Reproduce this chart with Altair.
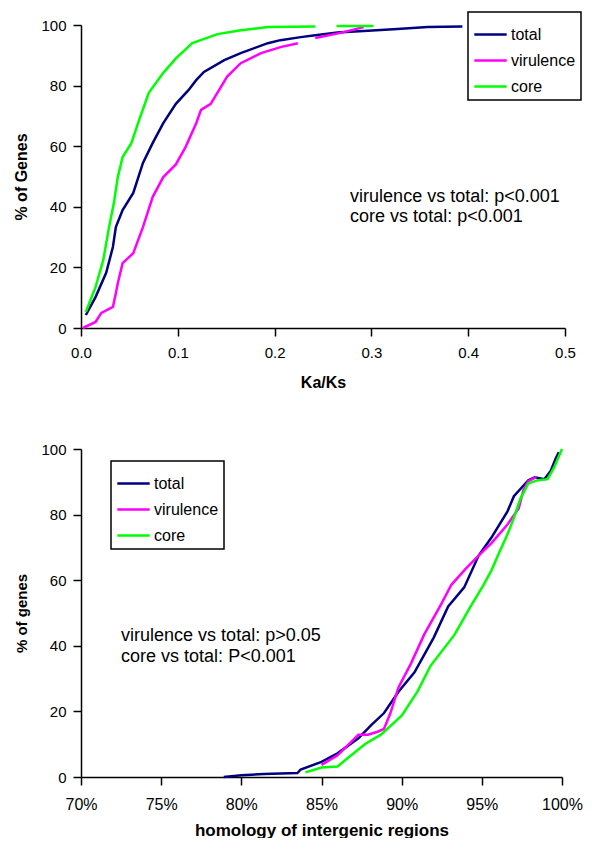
import altair as alt
import pandas as pd

FONT = "Liberation Sans"
series_names = ["total", "virulence", "core"]
series_colors = ["#000080", "#ff00ff", "#00ff00"]

# ---------------- top panel: Ka/Ks cumulative distribution ----------------
ka_total_x = [0.005, 0.015, 0.026, 0.033, 0.036, 0.043, 0.054, 0.064, 0.074, 0.085, 0.098, 0.111,
              0.119, 0.127, 0.148, 0.165, 0.193, 0.206, 0.227, 0.240, 0.265, 0.292, 0.327, 0.358, 0.394]
ka_total_y = [4.3, 10.2, 18.2, 26.8, 33.3, 38.9, 44.6, 54.5, 61, 67.6, 74, 78.5,
              81.8, 84.5, 88.4, 90.7, 94, 95, 96, 96.5, 97.5, 98, 98.7, 99.3, 99.5]

ka_vir_x1 = [0.002, 0.015, 0.021, 0.033, 0.036, 0.038, 0.043, 0.054, 0.064, 0.074, 0.085, 0.098,
             0.108, 0.119, 0.124, 0.134, 0.151, 0.165, 0.186, 0.206, 0.224]
ka_vir_y1 = [0, 2, 5, 7, 11.5, 14.8, 21.4, 24.7, 33.3, 43.2, 49.8, 54,
             59.7, 67.6, 72, 74, 83, 87.4, 90.7, 92.7, 94]
ka_vir_x2 = [0.242, 0.268, 0.292]
ka_vir_y2 = [95.7, 97.4, 99.3]

ka_core_x1 = [0.005, 0.015, 0.023, 0.029, 0.034, 0.038, 0.043, 0.052, 0.060, 0.070, 0.085, 0.098,
              0.115, 0.141, 0.165, 0.193, 0.242]
ka_core_y1 = [5.3, 13.5, 22.4, 33.3, 41.3, 49.8, 56.4, 61, 68.6, 77.6, 84.2, 89,
              94, 97, 98.3, 99.3, 99.5]
ka_core_x2 = [0.264, 0.302]
ka_core_y2 = [99.7, 99.7]

top_ticks = [0, 0.1, 0.2, 0.3, 0.4, 0.5]
top_notes = ["virulence vs total: p<0.001", "core vs total: p<0.001"]
top_note_x = [0.278, 0.278]
top_note_y = [43.2, 36.6]

# ---------------- bottom panel: intergenic homology ----------------
ig_total_x = [78.9, 80.0, 81.4, 83.5, 83.7, 85.0, 86.0, 87.3, 88.1, 88.9, 89.8, 90.8, 92.0, 92.9,
              93.9, 94.8, 95.6, 96.6, 97.0, 97.9, 98.3, 98.9, 99.3, 99.6, 99.8]
ig_total_y = [0, 0.5, 0.9, 1.2, 2.3, 4.6, 7.2, 11.8, 15.8, 19.5, 26, 31.9, 42.5, 52,
              57.8, 67.5, 73, 81, 85.6, 90.5, 91.4, 90.8, 93.4, 97, 99]

ig_vir_x = [85.0, 86.0, 86.6, 87.3, 87.9, 88.5, 88.9, 89.3, 89.8, 90.6, 91.4, 92.5, 93.1, 94.0,
            94.8, 95.6, 96.6, 97.3, 97.6, 97.9, 98.4]
ig_vir_y = [3.7, 6.6, 9.5, 12.9, 12.9, 13.8, 14.7, 19.5, 27.3, 34.8, 43.4, 53, 58.6, 63.5,
            67.5, 71.3, 77, 81.9, 87.6, 90.2, 91.4]

ig_core_x = [84.0, 85.0, 86.0, 86.7, 87.7, 88.7, 90.0, 91.0, 91.8, 93.3, 94.3, 95.1, 95.6, 96.0,
             96.6, 97.0, 97.4, 97.9, 98.5, 99.1, 99.5, 100]
ig_core_y = [1.4, 2.9, 3.2, 6, 10, 12.9, 18.7, 26.2, 33.9, 43.4, 52, 58.5, 63, 67.5,
             74, 79, 84.8, 89.5, 90.5, 90.8, 94.3, 100]

bottom_ticks = [70, 75, 80, 85, 90, 95, 100]
bottom_notes = ["virulence vs total: p>0.05", "core vs total: P<0.001"]
bottom_note_x = [72.5, 72.5]
bottom_note_y = [43.0, 36.6]


def frame(parts):
    rows = []
    for series, seg, xs, ys in parts:
        for x, y in zip(xs, ys):
            rows.append({"series": series, "seg": seg, "x": x, "y": y})
    return pd.DataFrame(rows)


top_df = frame([
    ("total", "t1", ka_total_x, ka_total_y),
    ("virulence", "v1", ka_vir_x1, ka_vir_y1),
    ("virulence", "v2", ka_vir_x2, ka_vir_y2),
    ("core", "c1", ka_core_x1, ka_core_y1),
    ("core", "c2", ka_core_x2, ka_core_y2),
])
bottom_df = frame([
    ("total", "t1", ig_total_x, ig_total_y),
    ("virulence", "v1", ig_vir_x, ig_vir_y),
    ("core", "c1", ig_core_x, ig_core_y),
])
top_ann = pd.DataFrame({"x": top_note_x, "y": top_note_y, "label": top_notes})
bottom_ann = pd.DataFrame({"x": bottom_note_x, "y": bottom_note_y, "label": bottom_notes})


def legend(x, y):
    return alt.Legend(
        title=None, orient="none", legendX=x, legendY=y,
        symbolType="stroke", symbolSize=1050, symbolStrokeWidth=2.5,
        labelFont=FONT, labelFontSize=16, labelColor="black", labelOffset=3,
        strokeColor="black", fillColor="white",
        padding=5, rowPadding=0,
    )


y_axis_vals = [0, 20, 40, 60, 80, 100]

top_lines = alt.Chart(top_df).mark_line(strokeWidth=2.5).encode(
    x=alt.X("x:Q", scale=alt.Scale(domain=[0, 0.5], nice=False, zero=False),
            axis=alt.Axis(title="Ka/Ks", values=top_ticks, format=".1f", labelFontSize=15,
                          titleFontSize=16, labelPadding=9, titlePadding=14)),
    y=alt.Y("y:Q", scale=alt.Scale(domain=[0, 100], nice=False),
            axis=alt.Axis(title="% of Genes", values=y_axis_vals, titleFontSize=16)),
    color=alt.Color("series:N", scale=alt.Scale(domain=series_names, range=series_colors),
                    legend=legend(387, -13)),
    detail="seg:N",
)
top_text = alt.Chart(top_ann).mark_text(align="left", baseline="middle", font=FONT,
                                        fontSize=18, color="black").encode(
    x="x:Q", y="y:Q", text="label:N")
top = alt.layer(top_lines, top_text).properties(width=484, height=303)

bottom_lines = alt.Chart(bottom_df).mark_line(strokeWidth=2.5).encode(
    x=alt.X("x:Q", scale=alt.Scale(domain=[70, 100], nice=False, zero=False),
            axis=alt.Axis(title="homology of intergenic regions", values=bottom_ticks,
                          labelExpr="datum.value + '%'", labelFontSize=16, titleFontSize=17,
                          labelPadding=11, titlePadding=10)),
    y=alt.Y("y:Q", scale=alt.Scale(domain=[0, 100], nice=False),
            axis=alt.Axis(title="% of genes", values=y_axis_vals, titleFontSize=15)),
    color=alt.Color("series:N", scale=alt.Scale(domain=series_names, range=series_colors),
                    legend=legend(30, 12)),
    detail="seg:N",
)
bottom_text = alt.Chart(bottom_ann).mark_text(align="left", baseline="middle", font=FONT,
                                              fontSize=18, color="black").encode(
    x="x:Q", y="y:Q", text="label:N")
bottom = alt.layer(bottom_lines, bottom_text).properties(width=481, height=328)

chart = alt.vconcat(top, bottom, spacing=52).resolve_scale(color="independent").properties(
    padding={"left": 5, "top": 3, "right": 0, "bottom": 0}
).configure_view(stroke=None).configure_axis(
    grid=False, domainColor="black", domainWidth=1.5, tickColor="black", tickWidth=1.5,
    tickSize=8, labelFont=FONT, labelFontSize=15, labelColor="black", labelFlush=False,
    titleFont=FONT, titleFontWeight="bold", titleColor="black",
).configure_axisY(
    labelPadding=7, titlePadding=11
).configure_legend(strokeWidth=1.5)

chart.save("out.html", embed_options={"renderer": "svg", "actions": False})
